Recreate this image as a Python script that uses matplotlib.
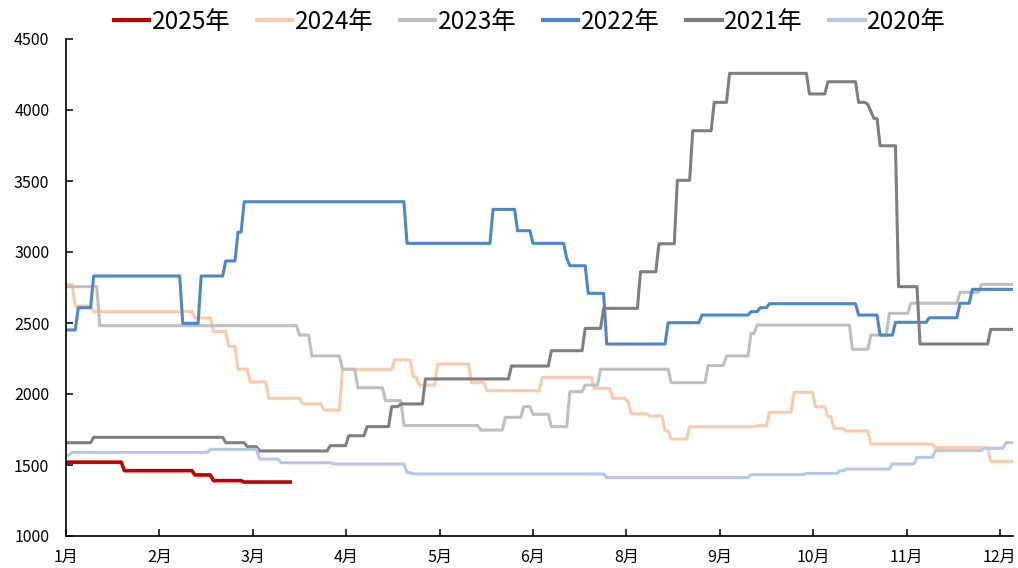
import numpy as np
import matplotlib
matplotlib.use("Agg")
import matplotlib.pyplot as plt

plt.rcParams['font.family'] = ['Liberation Sans Narrow', 'Noto Sans CJK SC', 'DejaVu Sans']

# x positions are in month-tick units (0 = first tick "1月")
tick_labels = ["1月", "2月", "3月", "4月", "5月", "6月", "8月", "9月", "10月", "11月", "12月"]
x_end_full = 10.14

def px(p):
    return (p - 66) / 93.4

# step series: start positions (pixels on the reference axis converted) and levels
s2025_x = [px(v) for v in [66, 122, 194, 211, 242]]
s2025_y = [1520, 1460, 1430, 1390, 1380]
s2025_end = px(291)

s2024_x = [px(v) for v in [66, 74, 91, 193, 213, 226, 235, 250, 266, 300, 322, 341, 393, 413, 419, 437,
                            470, 485, 540, 594, 610, 628, 631, 649, 664, 669, 688, 757, 769, 792, 814,
                            825, 832, 845, 870, 934, 989]]
s2024_y = [2770, 2620, 2580, 2535, 2440, 2335, 2175, 2085, 1970, 1930, 1887, 2174, 2240, 2120, 2063, 2211,
           2080, 2023, 2118, 2040, 1970, 1946, 1860, 1845, 1740, 1683, 1770, 1777, 1871, 2012, 1911,
           1840, 1758, 1740, 1648, 1622, 1526]

s2023_x = [px(v) for v in [66, 97, 297, 311, 342, 356, 385, 402, 479, 504, 522, 532, 550, 567, 584, 600,
                            670, 706, 726, 750, 757, 850, 870, 887, 909, 959, 979]]
s2023_y = [2756, 2481, 2415, 2268, 2174, 2044, 1953, 1778, 1746, 1836, 1911, 1857, 1770, 2016, 2063, 2174,
           2080, 2200, 2268, 2427, 2486, 2315, 2415, 2568, 2639, 2716, 2772]

s2022_x = [px(v) for v in [66, 77, 91, 182, 201, 223, 238, 242, 405, 492, 517, 530, 564, 569, 587, 605,
                            668, 699, 750, 760, 769, 857, 879, 895, 927, 960, 970]]
s2022_y = [2451, 2608, 2831, 2498, 2831, 2937, 3140, 3354, 3061, 3300, 3150, 3061, 2955, 2903, 2709, 2352,
           2502, 2556, 2580, 2608, 2636, 2556, 2415, 2505, 2537, 2639, 2737]

s2021_x = [px(v) for v in [66, 93, 224, 245, 259, 330, 348, 366, 391, 398, 423, 511, 550, 583, 603, 638,
                            656, 675, 690, 713, 729, 807, 825, 856, 866, 870, 874, 878, 898, 918, 988]]
s2021_y = [1657, 1695, 1657, 1629, 1599, 1636, 1706, 1770, 1911, 1930, 2106, 2197, 2305, 2462, 2603, 2861,
           3058, 3505, 3854, 4054, 4258, 4113, 4199, 4054, 4040, 3990, 3940, 3748, 2756, 2352, 2455]

s2020_x = [px(v) for v in [66, 70, 209, 259, 279, 332, 406, 411, 604, 750, 805, 840, 845, 891, 914, 933,
                            983, 1006]]
s2020_y = [1570, 1589, 1610, 1542, 1516, 1507, 1446, 1437, 1411, 1432, 1441, 1460, 1472, 1507, 1554, 1601,
           1618, 1657]

series = [
    ("2025年", s2025_x, s2025_y, s2025_end, "#C00000", 2.6),
    ("2024年", s2024_x, s2024_y, x_end_full, "#F8CBAD", 2.2),
    ("2023年", s2023_x, s2023_y, x_end_full, "#BFBFBF", 2.2),
    ("2022年", s2022_x, s2022_y, x_end_full, "#4F86C6", 2.2),
    ("2021年", s2021_x, s2021_y, x_end_full, "#7F7F7F", 2.2),
    ("2020年", s2020_x, s2020_y, x_end_full, "#B4C7E7", 2.2),
]

fig = plt.figure(figsize=(10.18, 5.68), dpi=100)
ax = fig.add_axes([66/1018, 32/568, (1013-66)/1018, (536-39)/568])

step = 1/30.4
for name, xs, ys, xend, col, lw in series:
    grid = np.arange(0, xend + 1e-9, step)
    idx = np.searchsorted(np.array(xs), grid, side='right') - 1
    idx = np.clip(idx, 0, len(ys) - 1)
    vals = np.array(ys)[idx]
    ax.plot(grid, vals, color=col, lw=lw, label=name, solid_joinstyle='round')

ax.set_xlim(0, x_end_full)
ax.set_ylim(1000, 4500)
ax.set_xticks(np.arange(len(tick_labels)))
ax.set_xticklabels(tick_labels)
ax.set_yticks(np.arange(1000, 4501, 500))
for s in ['top', 'right']:
    ax.spines[s].set_visible(False)
for s in ['left', 'bottom']:
    ax.spines[s].set_linewidth(1.2)
ax.tick_params(axis='both', direction='in', length=5, width=1.1, labelsize=11.5)
ax.tick_params(axis='y', pad=12)
ax.tick_params(axis='x', pad=9)

leg = fig.legend(loc='center', bbox_to_anchor=(530/1018, 1 - 22/568), ncol=6, frameon=False,
                 fontsize=17.5, handlelength=1.45, handletextpad=0.1, columnspacing=1.1,
                 borderaxespad=0)
for h in leg.get_lines():
    h.set_linewidth(3)

fig.savefig("out.png", dpi=100)
